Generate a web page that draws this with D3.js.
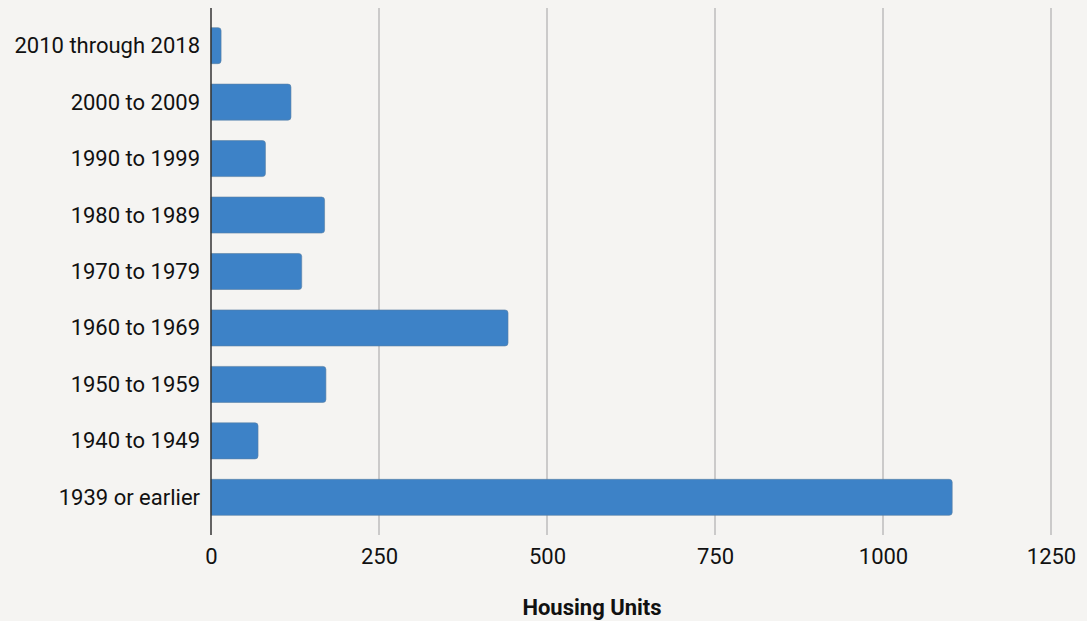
<!DOCTYPE html>
<html>
<head>
<meta charset="utf-8">
<script src="https://cdn.jsdelivr.net/npm/d3@7"></script>
<style>
  body { margin: 0; background: #f5f4f2; }
  svg { display: block; font-family: Roboto, sans-serif; }
  .tick text { font-size: 22px; fill: #111; font-family: Roboto, sans-serif; }
  .grid line { stroke: #bdbdbd; stroke-width: 1.5; }
</style>
</head>
<body>
<div class="page"></div>
<script>
var categories = ['2010 through 2018', '2000 to 2009', '1990 to 1999', '1980 to 1989',
  '1970 to 1979', '1960 to 1969', '1950 to 1959', '1940 to 1949', '1939 or earlier'];
var units = [15, 119, 81, 169, 135, 442, 171, 70, 1103];
var xTicks = [0, 250, 500, 750, 1000, 1250];

var container_dim = {width: 1087, height: 621},
    margins = {top: 8, right: 36, bottom: 86, left: 211},
    chart_dim = {
      width: container_dim.width - margins.left - margins.right,
      height: container_dim.height - margins.top - margins.bottom
    };

var data = categories.map(function(c, i) { return {cat: c, val: units[i]}; });

var xScale = d3.scaleLinear().domain([0, 1250]).range([0, chart_dim.width]);
var yScale = d3.scaleBand().domain(categories).range([0, chart_dim.height])
  .paddingInner(0.362).paddingOuter(0.348);

var svg = d3.select('.page').append('svg')
  .attr('width', container_dim.width)
  .attr('height', container_dim.height);

svg.append('rect').attr('width', container_dim.width).attr('height', container_dim.height)
  .attr('fill', '#f5f4f2');

var plot = svg.append('g')
  .attr('transform', 'translate(' + margins.left + ',' + margins.top + ')');

// vertical grid lines
plot.append('g').attr('class', 'grid')
  .selectAll('line').data(xTicks.slice(1)).enter()
  .append('line')
  .attr('x1', function(d) { return xScale(d); })
  .attr('x2', function(d) { return xScale(d); })
  .attr('y1', 0).attr('y2', chart_dim.height);

var r = 3;
plot.selectAll('path.bar').data(data).enter()
  .append('path')
  .attr('class', 'bar')
  .attr('fill', '#3d82c7')
  .attr('stroke', '#5a7fa3')
  .attr('stroke-width', 0.6)
  .attr('d', function(d) {
    var y0 = yScale(d.cat), h = yScale.bandwidth(), w = xScale(d.val);
    return 'M0,' + y0 + 'H' + (w - r) + 'Q' + w + ',' + y0 + ' ' + w + ',' + (y0 + r) +
      'V' + (y0 + h - r) + 'Q' + w + ',' + (y0 + h) + ' ' + (w - r) + ',' + (y0 + h) +
      'H0Z';
  });

var xAxis = d3.axisBottom(xScale).tickValues(xTicks).tickSize(0).tickPadding(13)
  .tickFormat(d3.format('d'));
var xg = plot.append('g')
  .attr('transform', 'translate(0,' + chart_dim.height + ')')
  .call(xAxis);
xg.select('.domain').remove();

var yAxis = d3.axisLeft(yScale).tickSize(0).tickPadding(11);
var yg = plot.append('g').call(yAxis);
yg.select('.domain').remove();
yg.selectAll('.tick text').attr('dy', '0.34em');

plot.append('line')
  .attr('x1', 0).attr('x2', 0).attr('y1', 0).attr('y2', chart_dim.height)
  .attr('stroke', '#333').attr('stroke-width', 1.5);

svg.append('text')
  .text('Housing Units')
  .attr('x', 592)
  .attr('y', 615)
  .attr('text-anchor', 'middle')
  .style('font-size', '22px')
  .style('font-weight', 'bold')
  .style('fill', '#111');
</script>
</body>
</html>
